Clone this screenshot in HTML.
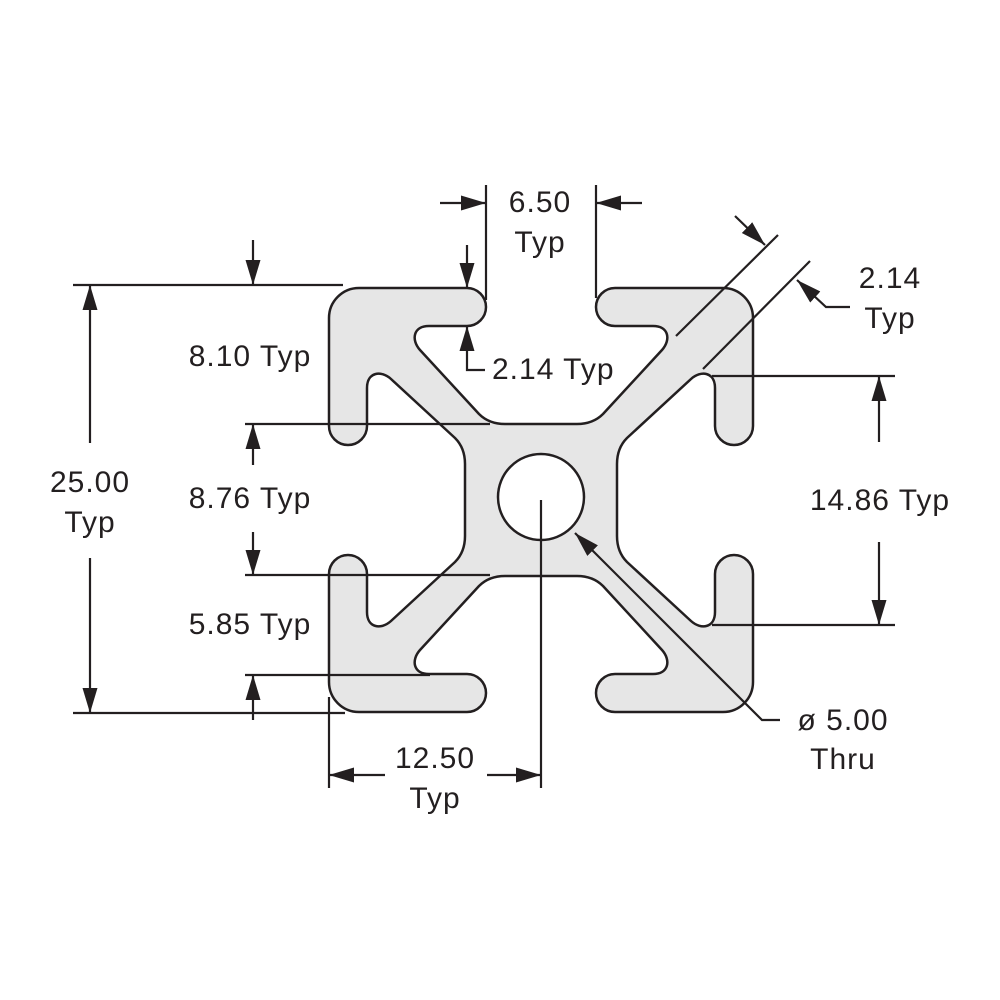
<!DOCTYPE html>
<html><head><meta charset="utf-8"><style>
html,body{margin:0;padding:0;background:#fff}
svg{display:block}
text{font-family:"Liberation Sans",Arial,sans-serif;font-size:30px;letter-spacing:1px;fill:#231f20}
</style></head><body>
<svg width="1000" height="1000" viewBox="0 0 1000 1000" xmlns="http://www.w3.org/2000/svg">
<defs>
<marker id="a" markerUnits="userSpaceOnUse" markerWidth="26" markerHeight="16" refX="25" refY="7.5" orient="auto">
<path d="M0,0 L25,7.5 L0,15 Z" fill="#231f20"/>
</marker>
</defs>
<g transform="translate(541,500)">
<path fill="#e6e6e6" stroke="#231f20" stroke-width="2.5" stroke-linejoin="round" d="
M 0,-76 L -36,-76 Q -52,-76 -62,-86 L -121,-150 C -130,-160 -128,-174 -112,-174 L -74,-174
A 19 19 0 0 0 -74,-212 L -182,-212 A 30 30 0 0 0 -212,-182 L -212,-74 A 19 19 0 0 0 -174,-74
L -174,-112 C -174,-128 -160,-130 -150,-121 L -86,-62 Q -76,-52 -76,-36 L -76,0
L -76,36 Q -76,52 -86,62 L -150,121 C -160,130 -174,128 -174,112 L -174,74
A 19 19 0 0 0 -212,74 L -212,182 A 30 30 0 0 0 -182,212 L -74,212 A 19 19 0 0 0 -74,174
L -112,174 C -128,174 -130,160 -121,150 L -62,86 Q -52,76 -36,76 L 0,76
L 36,76 Q 52,76 62,86 L 121,150 C 130,160 128,174 112,174 L 74,174
A 19 19 0 0 0 74,212 L 182,212 A 30 30 0 0 0 212,182 L 212,74 A 19 19 0 0 0 174,74
L 174,112 C 174,128 160,130 150,121 L 86,62 Q 76,52 76,36 L 76,0
L 76,-36 Q 76,-52 86,-62 L 150,-121 C 160,-130 174,-128 174,-112 L 174,-74
A 19 19 0 0 0 212,-74 L 212,-182 A 30 30 0 0 0 182,-212 L 74,-212 A 19 19 0 0 0 74,-174
L 112,-174 C 128,-174 130,-160 121,-150 L 62,-86 Q 52,-76 36,-76 Z"/>
<circle cx="0" cy="-3" r="43" fill="#fff" stroke="#231f20" stroke-width="2.5"/>
</g>
<g stroke="#231f20" stroke-width="2.2" fill="none">
<line x1="486" y1="185" x2="486" y2="300"/>
<line x1="596" y1="185" x2="596" y2="298"/>
<line x1="440" y1="203" x2="486" y2="203" marker-end="url(#a)"/>
<line x1="642" y1="203" x2="596" y2="203" marker-end="url(#a)"/>
<line x1="467" y1="245" x2="467" y2="288" marker-end="url(#a)"/>
<polyline points="485,370 467,370 467,326" marker-end="url(#a)"/>
<line x1="73" y1="285" x2="343" y2="285"/>
<line x1="245" y1="424" x2="490" y2="424"/>
<line x1="245" y1="575" x2="490" y2="575"/>
<line x1="245" y1="675" x2="430" y2="675"/>
<line x1="73" y1="713" x2="345" y2="713"/>
<line x1="253" y1="240" x2="253" y2="285" marker-end="url(#a)"/>
<line x1="253" y1="465" x2="253" y2="424" marker-end="url(#a)"/>
<line x1="253" y1="532" x2="253" y2="575" marker-end="url(#a)"/>
<line x1="253" y1="720" x2="253" y2="675" marker-end="url(#a)"/>
<line x1="90" y1="443" x2="90" y2="285" marker-end="url(#a)"/>
<line x1="90" y1="558" x2="90" y2="713" marker-end="url(#a)"/>
<line x1="329" y1="697" x2="329" y2="788"/>
<line x1="541" y1="500" x2="541" y2="788"/>
<line x1="385" y1="775" x2="329" y2="775" marker-end="url(#a)"/>
<line x1="487" y1="775" x2="541" y2="775" marker-end="url(#a)"/>
<line x1="712" y1="376" x2="895" y2="376"/>
<line x1="712" y1="625" x2="895" y2="625"/>
<line x1="879" y1="442" x2="879" y2="376" marker-end="url(#a)"/>
<line x1="879" y1="542" x2="879" y2="625" marker-end="url(#a)"/>
<polyline points="780,720 762,720 575,533" marker-end="url(#a)"/>
<line x1="676" y1="336" x2="778" y2="235"/>
<line x1="703" y1="369" x2="810" y2="261"/>
<line x1="735" y1="216" x2="765" y2="245" marker-end="url(#a)"/>
<polyline points="850,307 826,307 797,280" marker-end="url(#a)"/>
</g>
<g>
<text x="540" y="212" text-anchor="middle">6.50</text>
<text x="540" y="252" text-anchor="middle">Typ</text>
<text x="250" y="366" text-anchor="middle">8.10 Typ</text>
<text x="492" y="379">2.14 Typ</text>
<text x="250" y="508" text-anchor="middle">8.76 Typ</text>
<text x="250" y="634" text-anchor="middle">5.85 Typ</text>
<text x="90" y="492" text-anchor="middle">25.00</text>
<text x="90" y="532" text-anchor="middle">Typ</text>
<text x="435" y="768" text-anchor="middle">12.50</text>
<text x="435" y="808" text-anchor="middle">Typ</text>
<text x="880" y="510" text-anchor="middle">14.86 Typ</text>
<text x="843" y="730" text-anchor="middle">ø 5.00</text>
<text x="843" y="769" text-anchor="middle">Thru</text>
<text x="890" y="288" text-anchor="middle">2.14</text>
<text x="890" y="328" text-anchor="middle">Typ</text>
</g>
</svg>
</body></html>
